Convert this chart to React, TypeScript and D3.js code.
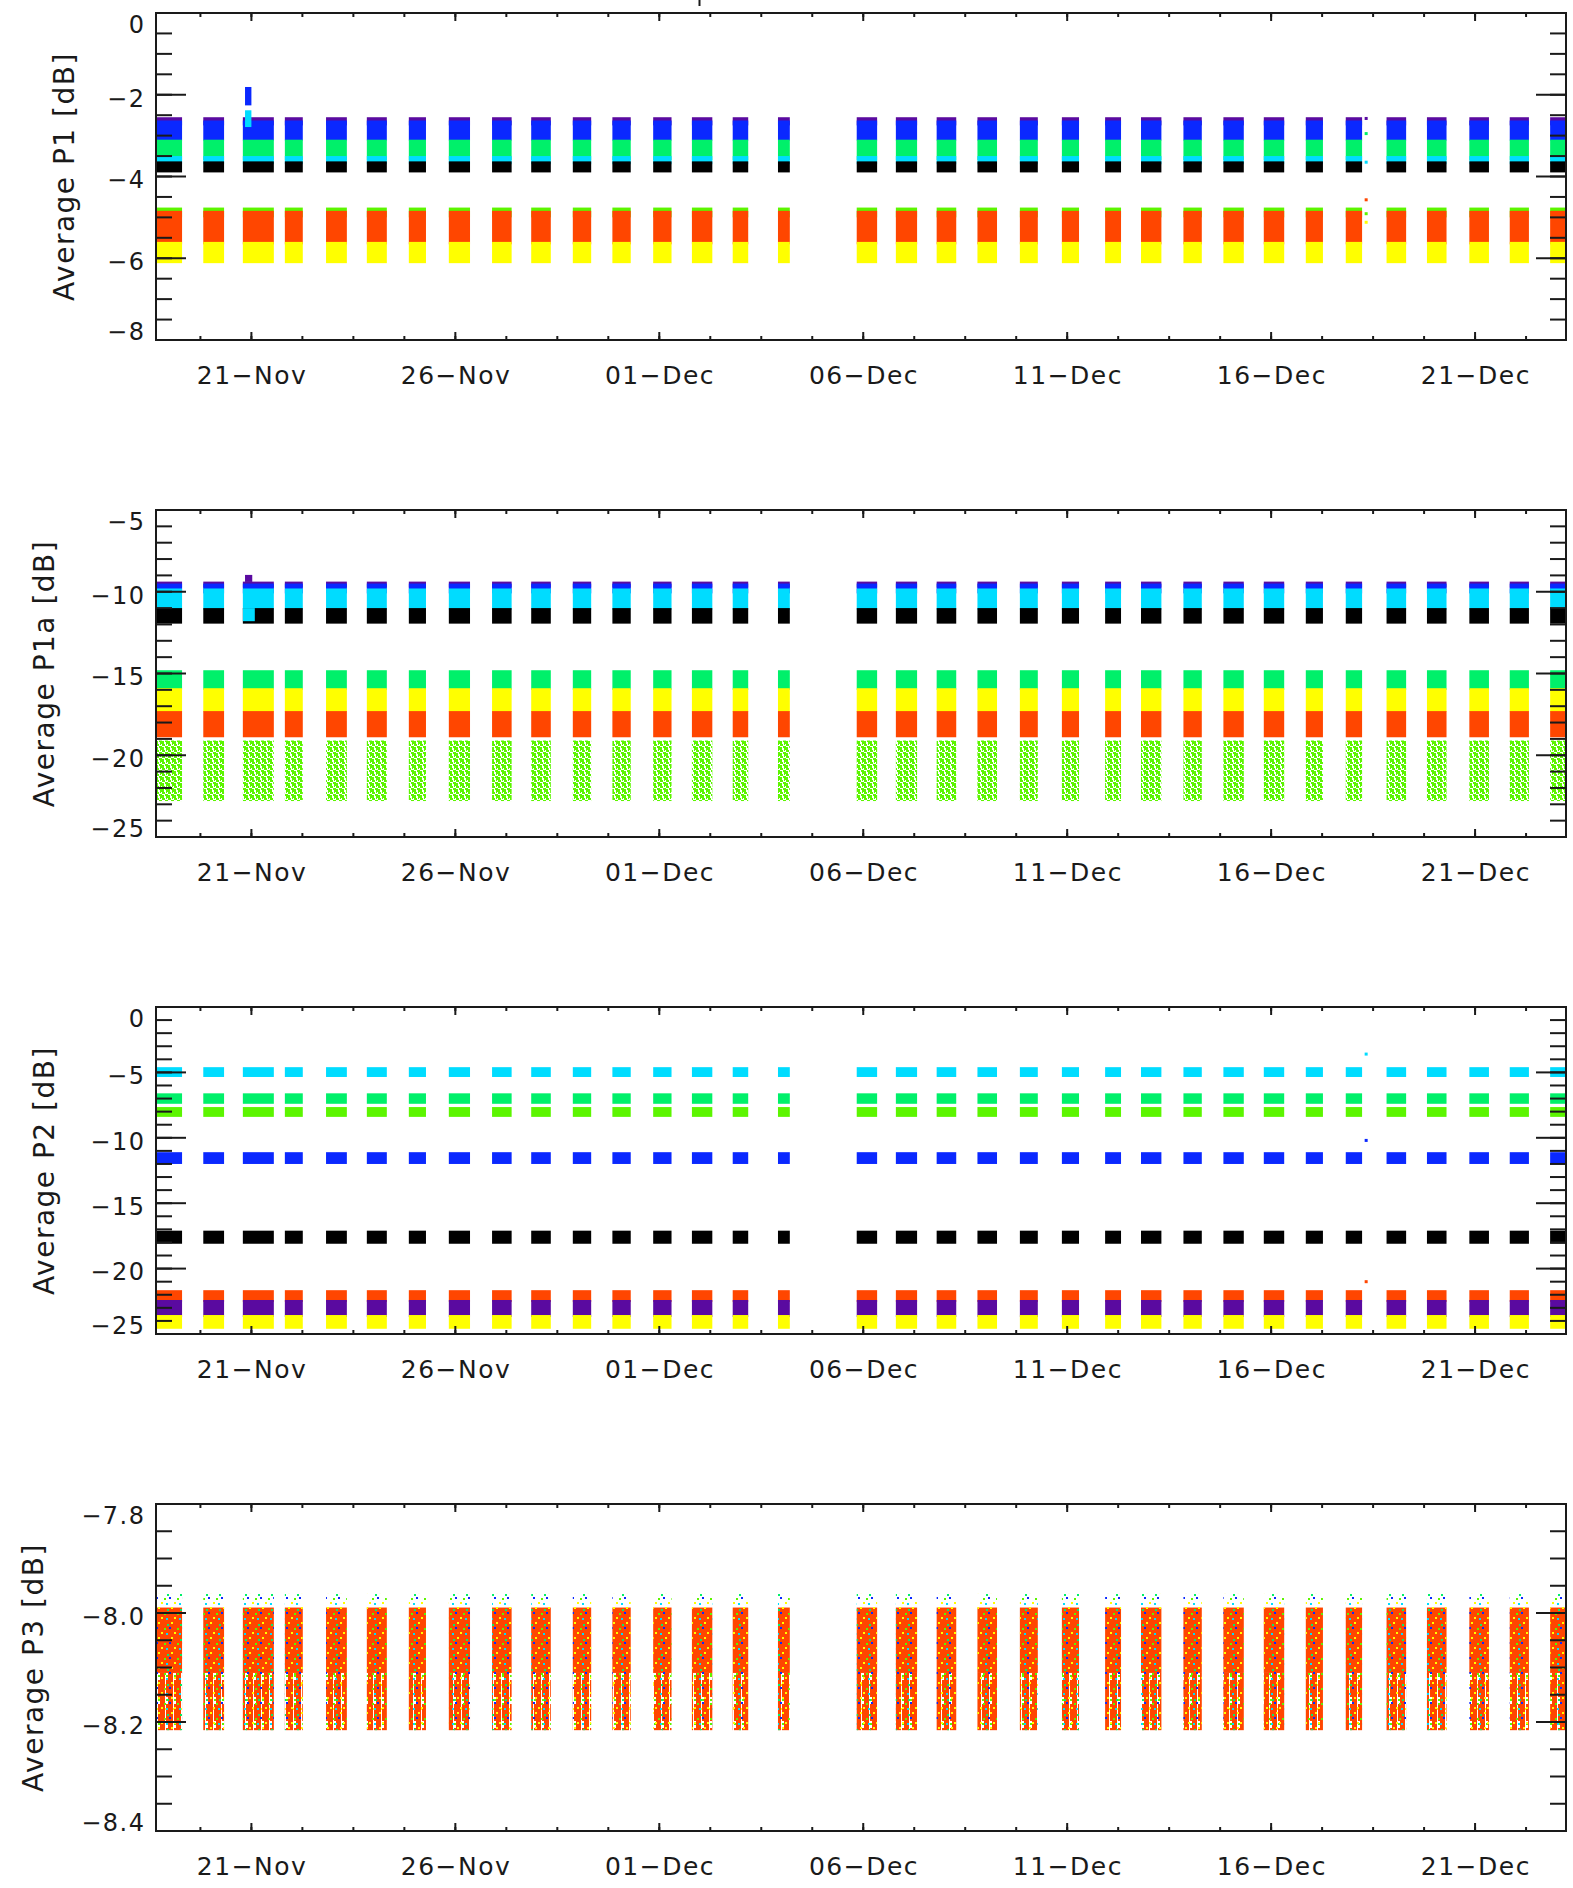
import React from "react";
import * as d3 from "d3";

// ---------- time helpers ----------
const MON: Record<string, number> = { Nov: 10, Dec: 11 };
const t = (s: string) => {
  const [m, d, hm] = s.split(" ");
  const [hh, mm] = hm.split(":").map(Number);
  return new Date(Date.UTC(2013, MON[m], Number(d), hh, mm));
};

// ---------- data ----------
const xDomain = ["Nov 18 15:52", "Dec 23 05:30"];

// observation passes (one cluster of points per day)
const clusterStart = [
  "Nov 18 14:53", "Nov 19 19:41", "Nov 20 18:58", "Nov 21 19:41", "Nov 22 19:55", "Nov 23 19:55",
  "Nov 24 20:38", "Nov 25 20:10", "Nov 26 21:36", "Nov 27 20:38", "Nov 28 21:07", "Nov 29 20:24",
  "Nov 30 20:24", "Dec 1 19:12", "Dec 2 19:12", "Dec 3 21:50", "Dec 5 20:10", "Dec 6 19:12",
  "Dec 7 19:12", "Dec 8 19:12", "Dec 9 20:10", "Dec 10 20:53", "Dec 11 22:19", "Dec 12 19:26",
  "Dec 13 20:24", "Dec 14 19:55", "Dec 15 19:41", "Dec 16 20:24", "Dec 17 19:55", "Dec 18 19:55",
  "Dec 19 19:41", "Dec 20 20:38", "Dec 21 20:24", "Dec 22 20:10",
];
const clusterEnd = [
  "Nov 19 07:12", "Nov 20 07:55", "Nov 21 13:12", "Nov 22 06:14", "Nov 23 08:10", "Nov 24 07:41",
  "Nov 25 06:43", "Nov 26 08:38", "Nov 27 09:07", "Nov 28 08:10", "Nov 29 07:55", "Nov 30 07:12",
  "Dec 1 07:12", "Dec 2 07:12", "Dec 3 04:19", "Dec 4 04:48", "Dec 6 08:10", "Dec 7 07:41",
  "Dec 8 06:43", "Dec 9 06:43", "Dec 10 06:43", "Dec 11 06:58", "Dec 12 07:41", "Dec 13 07:26",
  "Dec 14 07:12", "Dec 15 07:55", "Dec 16 07:41", "Dec 17 06:29", "Dec 18 05:31", "Dec 19 07:26",
  "Dec 20 07:12", "Dec 21 08:10", "Dec 22 07:41", "Dec 23 07:12",
];

const xTickDates = ["Nov 21 00:00", "Nov 26 00:00", "Dec 1 00:00", "Dec 6 00:00", "Dec 11 00:00", "Dec 16 00:00", "Dec 21 00:00"];
const xTickLabels = ["21−Nov", "26−Nov", "01−Dec", "06−Dec", "11−Dec", "16−Dec", "21−Dec"];

// Panel P1 : channel bands (dB)
const p1Series = ["purple", "blue", "green", "cyan", "black", "lime", "red", "yellow"];
const p1Top = [-2.55, -2.63, -3.10, -3.50, -3.63, -4.76, -4.84, -5.60];
const p1Bottom = [-2.75, -3.12, -3.60, -3.70, -3.90, -5.00, -5.66, -6.12];

// Panel P1a
const p1aSeries = ["purple", "blue", "cyan", "black", "green", "yellow", "red", "lime"];
const p1aTop = [-9.38, -9.50, -9.80, -11.00, -14.80, -15.90, -17.30, -19.10];
const p1aBottom = [-9.75, -10.10, -11.10, -11.95, -16.00, -17.35, -18.90, -22.80];

// Panel P2
const p2Series = ["cyan", "green", "lime", "blue", "black", "red", "purple", "yellow"];
const p2Top = [-4.60, -6.60, -7.65, -11.10, -17.10, -21.65, -22.40, -23.55];
const p2Bottom = [-5.35, -7.40, -8.40, -12.00, -18.10, -22.55, -23.70, -24.60];

// Panel P3 : dense red core, streaky tail, multi-colour speckle
const p3Series = ["red", "redTail", "speckle"];
const p3Top = [-7.99, -8.11, -7.965];
const p3Bottom = [-8.11, -8.215, -8.215];

// short excursions
const spikePanel = [0, 0, 1, 1];
const spikeSeries = ["blue", "cyan", "purple", "cyan"];
const spikeStart = ["Nov 20 20:15", "Nov 20 20:15", "Nov 20 20:15", "Nov 20 19:00"];
const spikeEnd = ["Nov 21 00:00", "Nov 21 00:00", "Nov 21 00:30", "Nov 21 02:00"];
const spikeTop = [-1.81, -2.38, -8.97, -11.0];
const spikeBottom = [-2.26, -2.79, -9.40, -11.8];

// isolated points
const ptPanel = [0, 0, 0, 0, 0, 0, 2, 2, 2];
const ptSeries = ["purple", "green", "cyan", "red", "lime", "yellow", "cyan", "blue", "red"];
const ptTime = ["Dec 18 07:55", "Dec 18 07:55", "Dec 18 07:55", "Dec 18 07:55", "Dec 18 07:55", "Dec 18 07:55", "Dec 18 07:55", "Dec 18 07:55", "Dec 18 07:55"];
const ptValue = [-2.58, -2.95, -3.65, -4.57, -4.91, -5.12, -3.6, -10.2, -21.0];

// axes
const panelTitles = ["Average P1 [dB]", "Average P1a [dB]", "Average P2 [dB]", "Average P3 [dB]"];
const yDomains = [[-8, 0], [-25, -5], [-25, 0], [-8.4, -7.8]];
const yMajorSteps = [2, 5, 5, 0.2];
const yMinorSteps = [0.5, 1, 1, 0.05];
const yDecimals = [0, 0, 0, 1];

// ---------- style / layout ----------
const W = 1573, H = 1888;
const LEFT = 156, RIGHT = 1566;
const TOPS = [13, 510, 1007, 1504];
const PH = 327;
const TITLE_X = [74, 54, 54, 43];
const INK = "#1a1a1a";
const LS = 1.5;
const COLORS: Record<string, string> = {
  purple: "#5a0aa0", blue: "#0a28ff", cyan: "#00dcff", green: "#00f06a",
  lime: "#5cf500", yellow: "#ffff00", red: "#ff4600", black: "#000000",
};
const fillFor = (s: string, panel: number) => {
  if (s === "redTail") return "url(#redTail)";
  if (s === "speckle") return "url(#speckle)";
  if (panel === 1 && s === "lime") return "url(#limeSparse)";
  return COLORS[s];
};

const panelSeries = [p1Series, p1aSeries, p2Series, p3Series];
const panelTop = [p1Top, p1aTop, p2Top, p3Top];
const panelBottom = [p1Bottom, p1aBottom, p2Bottom, p3Bottom];

const fmt = (v: number, dec: number) => {
  const s = dec ? v.toFixed(dec) : String(Math.round(v));
  return s.replace("-", "−");
};

function Panel({ idx, x }: { idx: number; x: d3.ScaleTime<number, number> }) {
  const top = TOPS[idx];
  const bottom = top + PH;
  const [lo, hi] = yDomains[idx];
  const y = d3.scaleLinear().domain([lo, hi]).range([bottom, top]);
  const starts = clusterStart.map(t);
  const ends = clusterEnd.map(t);
  const series = panelSeries[idx];
  const tops = panelTop[idx];
  const bots = panelBottom[idx];

  const nMaj = Math.round((hi - lo) / yMajorSteps[idx]);
  const majors = d3.range(nMaj + 1).map((k) => lo + k * yMajorSteps[idx]);
  const nMin = Math.round((hi - lo) / yMinorSteps[idx]);
  const minors = d3.range(nMin + 1).map((k) => lo + k * yMinorSteps[idx]);

  const [d0, d1] = x.domain();
  const first = t(xTickDates[0]).getTime();
  const step = 1.25 * 86400000;
  const xMinors: Date[] = [];
  for (let v = first - Math.floor((first - d0.getTime()) / step) * step; v <= d1.getTime(); v += step) {
    xMinors.push(new Date(v));
  }

  const capH = 17.5;
  return (
    <g>
      <clipPath id={`clip${idx}`}>
        <rect x={LEFT} y={top} width={RIGHT - LEFT} height={PH} />
      </clipPath>
      <g clipPath={`url(#clip${idx})`}>
        {series.map((s, i) =>
          starts.map((st, j) => (
            <rect
              key={`${s}-${j}`}
              x={x(st)}
              y={y(tops[i])}
              width={x(ends[j]) - x(st)}
              height={y(bots[i]) - y(tops[i])}
              fill={fillFor(s, idx)}
            />
          ))
        )}
        {spikePanel.map((p, k) =>
          p === idx ? (
            <rect
              key={`sp${k}`}
              x={x(t(spikeStart[k]))}
              y={y(spikeTop[k])}
              width={x(t(spikeEnd[k])) - x(t(spikeStart[k]))}
              height={y(spikeBottom[k]) - y(spikeTop[k])}
              fill={COLORS[spikeSeries[k]]}
            />
          ) : null
        )}
        {ptPanel.map((p, k) =>
          p === idx ? (
            <rect key={`pt${k}`} x={x(t(ptTime[k])) - 1.5} y={y(ptValue[k]) - 1.5} width={3} height={3} fill={COLORS[ptSeries[k]]} />
          ) : null
        )}
      </g>
      {/* frame */}
      <rect x={LEFT} y={top} width={RIGHT - LEFT} height={PH} fill="none" stroke={INK} strokeWidth={2} />
      {/* y ticks */}
      {minors.map((v, k) => (
        <g key={`ym${k}`} stroke={INK} strokeWidth={2}>
          <line x1={LEFT} x2={LEFT + 16} y1={y(v)} y2={y(v)} />
          <line x1={RIGHT} x2={RIGHT - 16} y1={y(v)} y2={y(v)} />
        </g>
      ))}
      {majors.map((v, k) => {
        const c = Math.min(Math.max(y(v) + 3, top + capH / 2 + 2), bottom - capH / 2);
        return (
          <g key={`yM${k}`}>
            <line x1={LEFT} x2={LEFT + 30} y1={y(v)} y2={y(v)} stroke={INK} strokeWidth={2} />
            <line x1={RIGHT} x2={RIGHT - 30} y1={y(v)} y2={y(v)} stroke={INK} strokeWidth={2} />
            <text x={LEFT - 12 + LS} y={c + capH / 2} textAnchor="end" fontSize={24} letterSpacing={LS} fill={INK}>
              {fmt(v, yDecimals[idx])}
            </text>
          </g>
        );
      })}
      {/* x ticks */}
      {xMinors.map((d, k) => (
        <g key={`xm${k}`} stroke={INK} strokeWidth={2}>
          <line x1={x(d)} x2={x(d)} y1={bottom} y2={bottom - 4} />
          <line x1={x(d)} x2={x(d)} y1={top} y2={top + 4} />
        </g>
      ))}
      {xTickDates.map((s, k) => {
        const xx = x(t(s));
        return (
          <g key={`xM${k}`}>
            <line x1={xx} x2={xx} y1={bottom} y2={bottom - 8} stroke={INK} strokeWidth={2} />
            <line x1={xx} x2={xx} y1={top} y2={top + 8} stroke={INK} strokeWidth={2} />
            <text x={xx + LS / 2} y={bottom + 44} textAnchor="middle" fontSize={25} letterSpacing={LS} fill={INK}>
              {xTickLabels[k]}
            </text>
          </g>
        );
      })}
      {/* axis title */}
      <text
        transform={`translate(${TITLE_X[idx]},${top + PH / 2}) rotate(-90)`}
        textAnchor="middle"
        fontSize={28}
        letterSpacing={1.5}
        fill={INK}
      >
        {panelTitles[idx]}
      </text>
    </g>
  );
}

export default function App() {
  const x = d3.scaleUtc().domain(xDomain.map(t)).range([LEFT, RIGHT]);
  return (
    <svg
      width={W}
      height={H}
      viewBox={`0 0 ${W} ${H}`}
      style={{ position: "absolute", left: 0, top: 0, display: "block" }}
      fontFamily="'DejaVu Sans', sans-serif"
    >
      <defs>
        <pattern id="limeSparse" width={6} height={6} patternUnits="userSpaceOnUse">
          <rect x={0} y={0} width={3} height={2} fill={COLORS.lime} />
          <rect x={3} y={2} width={3} height={2} fill={COLORS.lime} />
          <rect x={0} y={3} width={2} height={3} fill={COLORS.lime} />
          <rect x={4} y={4} width={2} height={2} fill={COLORS.lime} />
          <rect x={4} y={0} width={1} height={1} fill={COLORS.lime} />
        </pattern>
        <pattern id="redTail" width={8} height={24} patternUnits="userSpaceOnUse">
          <rect x={0} y={0} width={5} height={24} fill={COLORS.red} />
          <rect x={6} y={0} width={2} height={17} fill={COLORS.red} />
          <rect x={5} y={4} width={1} height={2} fill={COLORS.yellow} />
          <rect x={6} y={19} width={2} height={2} fill={COLORS.lime} />
        </pattern>
        <pattern id="speckle" width={13} height={15} patternUnits="userSpaceOnUse">
          <rect x={2} y={2} width={2} height={2} fill={COLORS.yellow} />
          <rect x={8} y={8} width={2} height={2} fill={COLORS.lime} />
          <rect x={5} y={12} width={2} height={2} fill={COLORS.yellow} />
          <rect x={11} y={4} width={2} height={2} fill={COLORS.green} />
          <rect x={0} y={7} width={2} height={2} fill={COLORS.blue} />
          <rect x={10} y={13} width={2} height={2} fill={COLORS.cyan} />
        </pattern>
      </defs>
      <rect width={W} height={H} fill="#ffffff" />
      <rect x={698.5} y={0} width={2} height={6} fill={INK} />
      {[0, 1, 2, 3].map((i) => (
        <Panel key={i} idx={i} x={x} />
      ))}
    </svg>
  );
}
